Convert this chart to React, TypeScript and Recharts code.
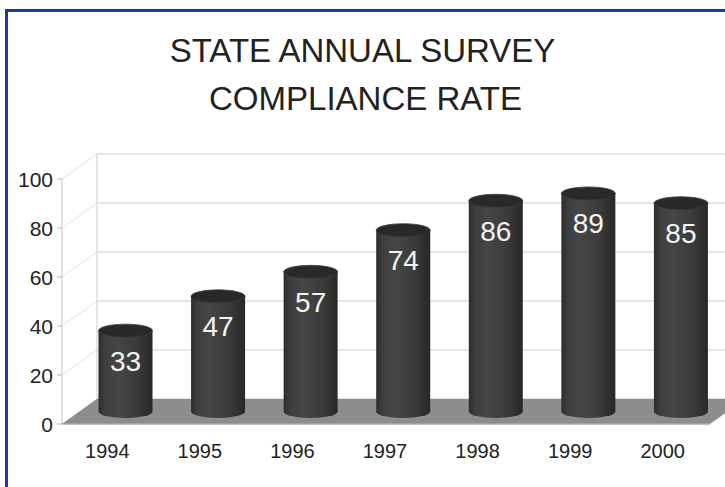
import React from "react";
import {
  BarChart, Bar, XAxis, YAxis, CartesianGrid, ReferenceArea, LabelList,
} from "recharts";

const years = ["1994", "1995", "1996", "1997", "1998", "1999", "2000"];
const rates = [33, 47, 57, 74, 86, 89, 85];
const yTicks = [0, 20, 40, 60, 80, 100];

const data = years.map((year, i) => ({ year, rate: rates[i] }));

// half of the 3D depth offset (bars sit in the middle plane)
const DX = 17.5;
const DY = 12.5;
const FONT = '"Liberation Sans", Arial, Helvetica, sans-serif';
const GRID = "#cdcdcd";

const GridLine = (p: any) => (
  <g key={p.key ?? p.y1}>
    <line x1={p.x1 + DX} y1={p.y1 - DY} x2={p.x2 + DX} y2={p.y2 - DY} stroke={GRID} strokeWidth={1.2} />
    <line x1={p.x1 - DX} y1={p.y1 + DY} x2={p.x1 + DX} y2={p.y1 - DY} stroke="#e2e2e2" strokeWidth={1} />
  </g>
);

const Walls = (p: any) => {
  const { x, y, width, height } = p;
  const b = y + height;
  return (
    <g>
      <line x1={x + DX} y1={y - DY} x2={x + DX} y2={b - DY} stroke={GRID} strokeWidth={1} />
      <line x1={x - DX} y1={y + DY} x2={x - DX} y2={b + DY} stroke="#c4c4c4" strokeWidth={1} />
      <polygon
        points={`${x - DX},${b + DY} ${x + width - DX},${b + DY} ${x + width + DX},${b - DY} ${x + DX},${b - DY}`}
        fill="#8d8d8d"
      />
      <line x1={x - DX} y1={b + DY} x2={x + width - DX} y2={b + DY} stroke="#a8a8a8" strokeWidth={1.5} />
    </g>
  );
};

const Cylinder = (p: any) => {
  const { x, y, width, height, index } = p;
  const rx = width / 2;
  const ry = 6.5;
  const bottom = y + height;
  const id = `cyl-${index}`;
  return (
    <g>
      <defs>
        <linearGradient id={id} x1="0" y1="0" x2="1" y2="0">
          <stop offset="0%" stopColor="#2c2c2c" />
          <stop offset="12%" stopColor="#3e3e3e" />
          <stop offset="35%" stopColor="#464646" />
          <stop offset="70%" stopColor="#3b3b3b" />
          <stop offset="100%" stopColor="#282828" />
        </linearGradient>
      </defs>
      <path
        d={`M${x},${y} L${x},${bottom} A${rx},${ry} 0 0 0 ${x + width},${bottom} L${x + width},${y} Z`}
        fill={`url(#${id})`}
      />
      <ellipse cx={x + rx} cy={y} rx={rx} ry={ry} fill="#292929" stroke="#3a3a3a" strokeWidth={0.8} />
    </g>
  );
};

const ValueLabel = (p: any) => (
  <text
    x={p.x + p.width / 2}
    y={p.y + 30.5}
    textAnchor="middle"
    dominantBaseline="central"
    fill="#f4f4f4"
    fontSize={28}
    fontFamily={FONT}
  >
    {p.value}
  </text>
);

const XTick = (p: any) => (
  <text x={p.x - DX - 1} y={p.y + 46} textAnchor="middle" fill="#222" fontSize={20} fontFamily={FONT}>
    {p.payload.value}
  </text>
);

const YTick = (p: any) => (
  <g>
    <line x1={p.x - DX - 5} y1={p.y + DY} x2={p.x - DX} y2={p.y + DY} stroke="#bbb" />
    <text
      x={p.x - DX - 9}
      y={p.y + DY}
      textAnchor="end"
      dominantBaseline="central"
      fill="#222"
      fontSize={21}
      fontFamily={FONT}
    >
      {p.payload.value}
    </text>
  </g>
);

export default function App() {
  return (
    <div style={{ position: "absolute", left: 0, top: 0, width: 725, height: 487, overflow: "hidden", background: "#fff" }}>
      <BarChart
        width={760}
        height={487}
        data={data}
        margin={{ top: 166.5, right: 32.5, left: 0, bottom: 0 }}
        barCategoryGap={0}
      >
        <CartesianGrid vertical={false} horizontal={GridLine} />
        <ReferenceArea y1={0} y2={100} shape={Walls} />
        <XAxis dataKey="year" height={75.5} axisLine={false} tickLine={false} tickSize={0} tickMargin={0} tick={XTick} interval={0} />
        <YAxis width={79.5} domain={[0, 100]} ticks={yTicks} axisLine={false} tickLine={false} tickSize={0} tickMargin={0} tick={YTick} interval={0} />
        <Bar dataKey="rate" barSize={54} shape={Cylinder} isAnimationActive={false}>
          <LabelList dataKey="rate" content={ValueLabel} />
        </Bar>
      </BarChart>
      <div
        style={{
          position: "absolute", left: 0, top: 26.6, width: 725, textAlign: "center",
          fontFamily: FONT, fontSize: 33, lineHeight: "48px", color: "#222",
        }}
      >
        <div>STATE ANNUAL SURVEY</div>
        <div style={{ paddingLeft: 6 }}>COMPLIANCE RATE</div>
      </div>
      <div
        style={{
          position: "absolute", left: 5, top: 9, right: 0, bottom: 0,
          borderTop: "3px solid #163d98", borderLeft: "3px solid #163d98",
        }}
      />
    </div>
  );
}
